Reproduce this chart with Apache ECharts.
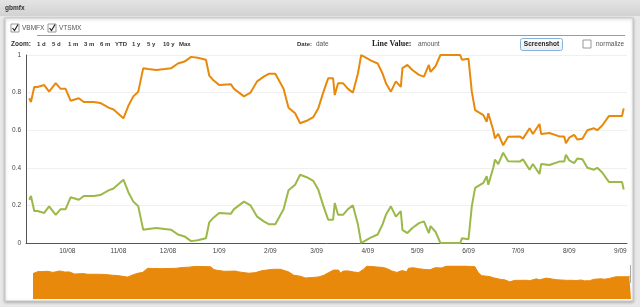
<!DOCTYPE html>
<html>
<head>
<meta charset="utf-8">
<script src="https://cdn.jsdelivr.net/npm/echarts@6/dist/echarts.min.js"></script>
<style>
  html, body { margin: 0; padding: 0; background: #e8e8e8; }
  #chart { width: 640px; height: 307px; }
</style>
</head>
<body>
<div id="chart"></div>
<script>
// sample dates (roughly every few trading days)
const dates = [
  '2008-09-08','2008-09-09','2008-09-11','2008-09-13','2008-09-17','2008-09-20','2008-09-24','2008-09-27','2008-09-30','2008-10-03',
  '2008-10-08','2008-10-11','2008-10-17','2008-10-21','2008-10-26','2008-10-29','2008-11-04','2008-11-07','2008-11-10','2008-11-13',
  '2008-11-16','2008-11-19','2008-11-24','2008-11-29','2008-12-03','2008-12-07','2008-12-11','2008-12-15','2008-12-19','2008-12-24',
  '2008-12-26','2008-12-28','2009-01-01','2009-01-08','2009-01-10','2009-01-16','2009-01-20','2009-01-24','2009-01-28','2009-01-31',
  '2009-02-04','2009-02-09','2009-02-12','2009-02-16','2009-02-19','2009-02-23','2009-02-27','2009-03-02','2009-03-05','2009-03-08',
  '2009-03-11','2009-03-12','2009-03-14','2009-03-17','2009-03-20','2009-03-23','2009-03-26','2009-03-28','2009-03-30','2009-04-03',
  '2009-04-07','2009-04-10','2009-04-12','2009-04-15','2009-04-18','2009-04-21','2009-04-22','2009-04-25','2009-04-28','2009-05-02',
  '2009-05-05','2009-05-08','2009-05-09','2009-05-12','2009-05-15','2009-05-27','2009-05-28','2009-06-01','2009-06-03','2009-06-05',
  '2009-06-06','2009-06-10','2009-06-12','2009-06-13','2009-06-16','2009-06-17','2009-06-19','2009-06-22','2009-06-25','2009-07-02',
  '2009-07-04','2009-07-08','2009-07-10','2009-07-14','2009-07-15','2009-07-20','2009-07-26','2009-07-29','2009-07-30','2009-08-01',
  '2009-08-04','2009-08-06','2009-08-09','2009-08-12','2009-08-16','2009-08-18','2009-08-21','2009-08-25','2009-08-27','2009-09-02',
  '2009-09-03'
]

// orange line
const vbmfx = [
  0.77,0.75,0.83,0.83,0.84,0.805,0.85,0.82,0.82,0.757,
  0.77,0.75,0.75,0.745,0.72,0.71,0.663,0.73,0.78,0.805,
  0.93,0.925,0.92,0.925,0.93,0.955,0.965,0.99,0.985,0.975,
  0.89,0.87,0.84,0.845,0.82,0.78,0.80,0.86,0.885,0.90,
  0.90,0.82,0.72,0.69,0.637,0.65,0.67,0.716,0.80,0.876,
  0.876,0.787,0.85,0.85,0.82,0.80,0.90,1.0,0.99,0.97,
  0.955,0.90,0.85,0.805,0.86,0.83,0.93,0.947,0.92,0.894,
  0.885,0.947,0.91,0.94,1.0,1.0,0.975,0.98,0.805,0.707,
  0.70,0.68,0.645,0.69,0.60,0.557,0.58,0.52,0.565,0.567,
  0.555,0.61,0.58,0.633,0.58,0.585,0.567,0.567,0.53,0.56,
  0.575,0.55,0.555,0.60,0.61,0.60,0.625,0.675,0.675,0.675,
  0.716
]

// green line
const vtsmx = [
  0.23,0.25,0.17,0.17,0.16,0.195,0.15,0.18,0.18,0.243,
  0.23,0.25,0.25,0.255,0.28,0.29,0.337,0.27,0.22,0.195,
  0.07,0.075,0.08,0.075,0.07,0.045,0.035,0.01,0.015,0.025,
  0.11,0.13,0.16,0.155,0.18,0.22,0.20,0.14,0.115,0.10,
  0.10,0.18,0.28,0.31,0.363,0.35,0.33,0.284,0.20,0.124,
  0.124,0.213,0.15,0.15,0.18,0.20,0.10,0.0,0.01,0.03,
  0.045,0.10,0.15,0.195,0.14,0.17,0.07,0.053,0.08,0.106,
  0.115,0.053,0.09,0.06,0.0,0.0,0.025,0.02,0.195,0.293,
  0.30,0.32,0.355,0.31,0.40,0.443,0.42,0.48,0.435,0.433,
  0.445,0.39,0.42,0.367,0.42,0.415,0.433,0.433,0.47,0.44,
  0.425,0.45,0.445,0.40,0.39,0.40,0.375,0.325,0.325,0.325,
  0.284
]

const monthTicks = ['2008-10-01','2008-11-01','2008-12-01','2009-01-01','2009-02-01','2009-03-01',
  '2009-04-01','2009-05-01','2009-06-01','2009-07-01','2009-08-01','2009-09-01']
const zoomLinks = ['1 d','5 d','1 m','3 m','6 m','YTD','1 y','5 y','10 y','Max']

const ORANGE = '#e8890c'
const GREEN = '#9ab948'
const FONT = '"Liberation Sans", Arial, sans-serif'

function toTs(s){
  const p = s.split('-')
  return Date.UTC(+p[0], +p[1]-1, +p[2])
}
function pairs(vals){
  return vals.map((v,i)=> [toTs(dates[i]), v])
}

const myChart = echarts.init(document.getElementById('chart'))

const checkbox = (x, y, checked) => {
  const children = [{
    type: 'rect', shape: { x: 0, y: 0, width: 8, height: 8 },
    style: { fill: '#fff', stroke: '#999', lineWidth: 1 }
  }]
  if (checked) children.push({
    type: 'polyline', shape: { points: [[1.5,4],[3.5,6.5],[7,0.5]] },
    style: { stroke: '#222', lineWidth: 1.2, fill: null }
  })
  return { type: 'group', x, y, silent: true, children }
}
const label = (x, y, text, font, fill) => ({
  type: 'text', x, y, silent: true,
  style: { text, fill: fill || '#555', font: font || ('6.5px ' + FONT), textVerticalAlign: 'middle' }
})

const graphics = [
  // header bar
  { type: 'rect', shape: { x: 0, y: 0, width: 640, height: 16 }, silent: true,
    style: { fill: new echarts.graphic.LinearGradient(0,0,0,1,[{offset:0,color:'#e4e4e4'},{offset:1,color:'#d2d2d2'}]) } },
  label(5, 8, 'gbmfx', 'bold 6.5px ' + FONT, '#333'),
  // white panel
  { type: 'rect', shape: { x: 5, y: 18, width: 628, height: 283 }, z: -10, silent: true,
    style: { fill: '#fff', stroke: '#c8c8c8', lineWidth: 1, shadowBlur: 3, shadowColor: 'rgba(0,0,0,0.25)', shadowOffsetY: 1 } },
  checkbox(11, 24, true),
  label(22, 28, 'VBMFX'),
  checkbox(48, 24, true),
  label(59, 28, 'VTSMX'),
  { type: 'line', shape: { x1: 37, y1: 35.5, x2: 625, y2: 35.5 }, style: { stroke: '#9a9a9a', lineWidth: 1 }, silent: true },
  label(11, 44, 'Zoom:', 'bold 6.5px ' + FONT, '#333'),
  label(297, 44, 'Date:', 'bold 6px ' + FONT, '#333'),
  label(316, 44, 'date'),
  label(372, 44, 'Line Value:', 'bold 8px "Liberation Serif"', '#222'),
  label(418, 44, 'amount'),
  // screenshot button
  { type: 'rect', shape: { x: 520.5, y: 38.5, width: 42, height: 12, r: 2 }, silent: true,
    style: { fill: new echarts.graphic.LinearGradient(0,0,0,1,[{offset:0,color:'#ffffff'},{offset:1,color:'#ececec'}]), stroke: '#86b3d9', lineWidth: 1 } },
  { type: 'text', x: 541.5, y: 44.5, silent: true,
    style: { text: 'Screenshot', fill: '#222', font: 'bold 6.5px ' + FONT, textAlign: 'center', textVerticalAlign: 'middle' } },
  checkbox(583, 40, false),
  label(596, 44, 'normalize'),
  // navigator right handle
  { type: 'line', shape: { x1: 630.5, y1: 265, x2: 630.5, y2: 283 }, style: { stroke: '#aaa', lineWidth: 1 }, silent: true }
]
const zoomX = [37, 52, 68, 84, 100, 115, 132, 147, 163, 179]
zoomLinks.forEach((t, i) => {
  graphics.push(label(zoomX[i], 44, t, 'bold 6px ' + FONT, '#333'))
})

myChart.setOption({
  backgroundColor: '#e8e8e8',
  animation: false,
  graphic: graphics,
  grid: [
    { left: 26, right: 13, top: 55, bottom: 64 },
    { left: 33, right: 9, top: 266, bottom: 8 }
  ],
  xAxis: [{
    type: 'value',
    gridIndex: 0,
    min: toTs('2008-09-06'),
    max: toTs('2009-09-05'),
    axisLine: { lineStyle: { color: '#555', width: 1 } },
    axisTick: { show: false },
    splitLine: { show: false },
    axisLabel: {
      customValues: monthTicks.map(toTs),
      color: '#444',
      fontSize: 6.5,
      fontFamily: FONT,
      margin: 5,
      formatter: v => {
        const d = new Date(v)
        return (d.getUTCMonth()+1) + '/' + String(d.getUTCFullYear()).slice(2)
      }
    }
  }, {
    type: 'value',
    gridIndex: 1,
    min: toTs(dates[0]),
    max: toTs(dates[dates.length-1]),
    show: false
  }],
  yAxis: [{
    type: 'value',
    gridIndex: 0,
    min: 0,
    max: 1,
    interval: 0.2,
    axisLine: { show: true, lineStyle: { color: '#555', width: 1 } },
    axisTick: { show: false },
    splitLine: { lineStyle: { color: '#f0f0f0' } },
    axisLabel: { color: '#444', fontSize: 6.5, fontFamily: FONT, margin: 5 }
  }, {
    type: 'value',
    gridIndex: 1,
    min: 0,
    max: 1,
    show: false
  }],
  series: [{
    name: 'VBMFX',
    type: 'line',
    data: pairs(vbmfx),
    showSymbol: false,
    lineStyle: { color: ORANGE, width: 2 },
    itemStyle: { color: ORANGE }
  }, {
    name: 'VTSMX',
    type: 'line',
    data: pairs(vtsmx),
    showSymbol: false,
    lineStyle: { color: GREEN, width: 2 },
    itemStyle: { color: GREEN }
  }, {
    name: 'nav',
    type: 'line',
    xAxisIndex: 1,
    yAxisIndex: 1,
    data: pairs(vbmfx),
    showSymbol: false,
    lineStyle: { color: ORANGE, width: 1 },
    areaStyle: { color: ORANGE, opacity: 1 }
  }]
})
</script>
</body>
</html>
